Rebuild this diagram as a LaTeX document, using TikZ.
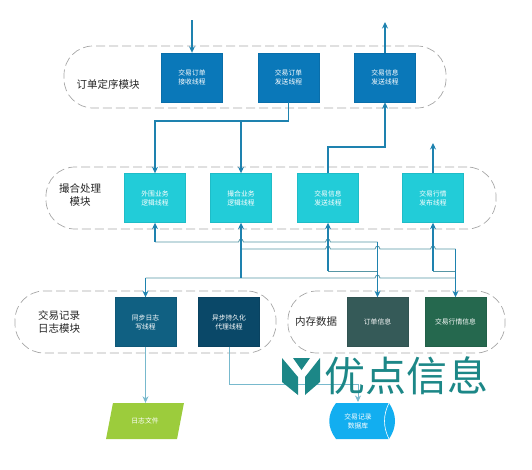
\documentclass[tikz,border=0pt]{standalone}
\usepackage{fontspec}
\setmainfont{Noto Sans CJK SC}
\usepackage{tikz}
\usetikzlibrary{arrows.meta,shapes.geometric}
\usepackage{xcolor}
\definecolor{cligne}{RGB}{30,130,175}
\definecolor{cnappe}{RGB}{85,150,165}
\definecolor{cpale}{RGB}{120,185,205}
\definecolor{cbleu}{RGB}{10,120,185}
\definecolor{ccyan}{RGB}{34,204,216}
\definecolor{cpetrole}{RGB}{16,96,130}
\definecolor{cnuit}{RGB}{10,72,104}
\definecolor{cardoise}{RGB}{53,90,88}
\definecolor{csapin}{RGB}{37,104,78}
\definecolor{cherbe}{RGB}{156,204,60}
\definecolor{cciel}{RGB}{18,174,240}
\definecolor{clogo}{RGB}{28,135,135}
\tikzset{
  module/.style={draw=gray!70,dashed,dash pattern=on 9pt off 4pt,line width=0.7pt,rounded corners=29pt,inner sep=0pt},
  thread/.style={draw=#1!92!black,fill=#1,text=white,font=\fontsize{6.8}{9}\selectfont,align=center,inner sep=0pt,minimum width=61pt,minimum height=49pt},
  titre/.style={font=\fontsize{10.5}{13.5}\selectfont,align=center,text=black!85},
  link/.style={cligne,line width=1.1pt},
  nappe/.style={cnappe,line width=0.8pt},
  thin link/.style={cpale,line width=0.7pt},
}
\begin{document}
\begin{tikzpicture}[x=1pt,y=-1pt,>={Stealth[length=6.5pt,width=6pt]}]
\useasboundingbox (0,0) rectangle (532,469);
% modules
\node[module,minimum width=382pt,minimum height=62pt] (ordre) at (255,77) {};
\node[module,minimum width=450pt,minimum height=62pt] (match) at (271,198) {};
\node[module,minimum width=261pt,minimum height=62pt] (journal) at (145.5,322) {};
\node[module,minimum width=217pt,minimum height=62pt] (memoire) at (396.5,322) {};
\node[titre] (tordre) at (108,84) {订单定序模块};
\node[titre] (tmatch) at (80,195) {撮合处理\\模块};
\node[titre] (tjournal) at (59,322) {交易记录\\日志模块};
\node[titre] (tmemoire) at (316,322) {内存数据};
% threads
\node[thread=cbleu] (o1) at (192,77.5) {交易订单\\接收线程};
\node[thread=cbleu] (o2) at (288.5,77.5) {交易订单\\发送线程};
\node[thread=cbleu] (o3) at (385,77.5) {交易信息\\发送线程};
\node[thread=ccyan] (m1) at (155,198) {外围业务\\逻辑线程};
\node[thread=ccyan] (m2) at (241,198) {撮合业务\\逻辑线程};
\node[thread=ccyan] (m3) at (328,198) {交易信息\\发送线程};
\node[thread=ccyan] (m4) at (433,198) {交易行情\\发布线程};
\node[thread=cpetrole] (j1) at (145.5,322) {同步日志\\写线程};
\node[thread=cnuit] (j2) at (229,322) {异步持久化\\代理线程};
\node[thread=cardoise] (d1) at (377.5,322) {订单信息};
\node[thread=csapin] (d2) at (455.5,322) {交易行情信息};
\node[trapezium,trapezium stretches=true,trapezium left angle=65,trapezium right angle=115,fill=cherbe,text=white,
  font=\fontsize{6.8}{9}\selectfont,minimum width=78pt,minimum height=36pt,inner sep=0pt] (fichier) at (145,421) {日志文件};
\fill[cciel] (336,403) -- (389,403) .. controls (397,415) and (397,427) .. (389,439) -- (336,439)
  .. controls (327,427) and (327,415) .. (336,403) -- cycle;
\draw[white,line width=0.6pt] (389,403) .. controls (383,415) and (383,427) .. (389,439);
\node[text=white,font=\fontsize{6.8}{9}\selectfont,align=center] (base) at (358,421) {交易记录\\数据库};
\coordinate (entree) at (192,20);
\coordinate (sortie) at (385,22);
\coordinate (cotes) at (433,143);
% connectors
\draw[link,->] (entree) -- (o1.north);
\draw[link,->] (o3.north) -- (sortie);
\draw[link,->] (o2.south) -- (288.5,121) -| (m1.north);
\draw[link,->] (241,121) -- (m2.north);
\draw[link,->] (m3.north) -- (328,147) -| (o3.south);
\draw[link,->] (m4.north) -- (cotes);
\draw[nappe] (155,242) -- (238.5,242) .. controls (239.5,238) and (242.5,238) .. (243.5,242)
  -- (325.5,242) .. controls (326.5,238) and (329.5,238) .. (330.5,242) -- (377.5,242);
\draw[nappe] (241,249) -- (325.5,249) .. controls (326.5,245) and (329.5,245) .. (330.5,249)
  -- (375,249) .. controls (376,245) and (379,245) .. (380,249)
  -- (430.5,249) .. controls (431.5,245) and (434.5,245) .. (435.5,249) -- (455.5,249);
\draw[nappe] (145.5,278) -- (375,278) .. controls (376,274) and (379,274) .. (380,278) -- (455.5,278);
\draw[nappe] (328,271) -- (377.5,271);
\draw[nappe] (433,271) -- (455.5,271);
\draw[link,<-] (m1.south) -- (155,242);
\draw[link,<-] (m2.south) -- (241,278);
\draw[link,<-] (m3.south) -- (328,271);
\draw[link,<-] (m4.south) -- (433,271);
\draw[link,->] (377.5,242) -- (d1.north);
\draw[link,->] (455.5,249) -- (d2.north);
\draw[link,->] (145.5,278) -- (j1.north);
\draw[thin link,->] (j1.south) -- (fichier.north -| j1.south);
\draw[thin link,->] (j2.south) -- (229,384) -- (358,384) -- (358,402);
% logo
\fill[clogo] (282,358) -- (298,377) -- (298,395) -- (282,382) -- cycle;
\fill[clogo] (320,358) -- (305,377) -- (305,395) -- (320,382) -- cycle;
\fill[clogo] (293,358) -- (310,358) -- (301.5,370) -- cycle;
\node[text=clogo,font=\fontsize{41}{41}\selectfont,inner sep=0pt] (logo) at (406,376) {优点信息};
\end{tikzpicture}
\end{document}
